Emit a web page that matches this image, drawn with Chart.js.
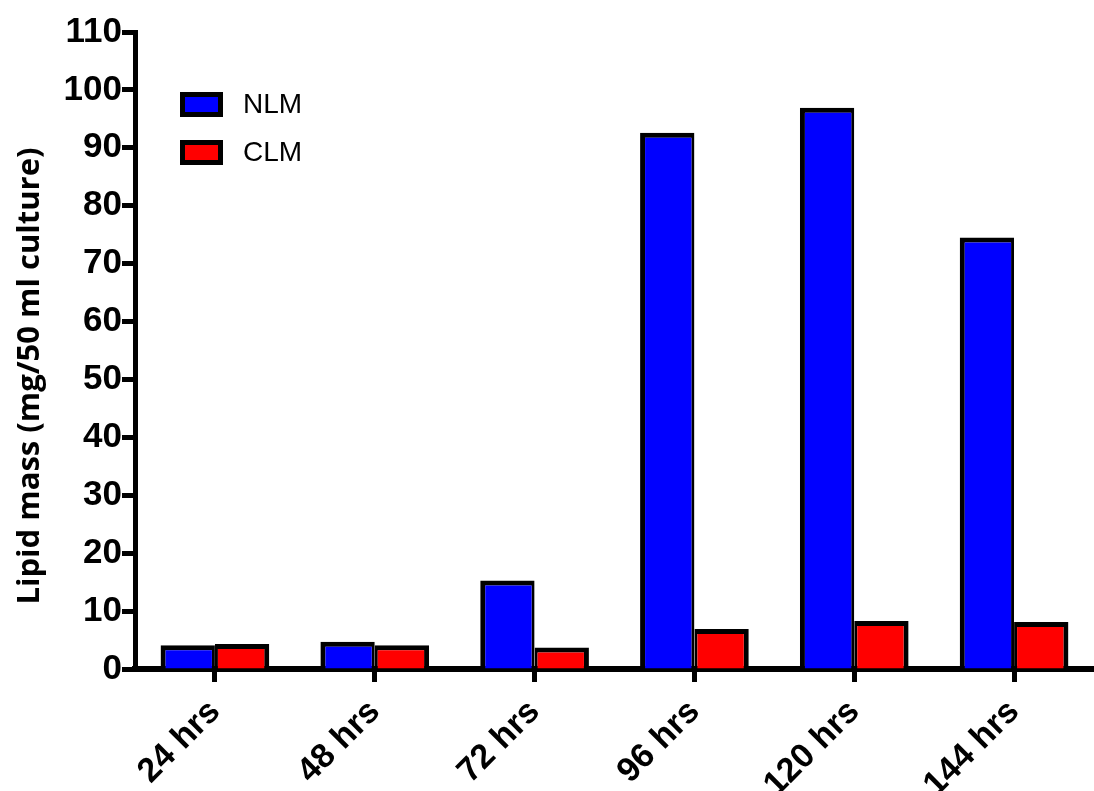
<!DOCTYPE html>
<html>
<head>
<meta charset="utf-8">
<script src="https://cdn.jsdelivr.net/npm/chart.js@4"></script>
<style>
  html, body { margin: 0; padding: 0; background: #fff; }
  #wrap { width: 1094px; height: 791px; }
</style>
</head>
<body>
<div id="wrap"><canvas id="lipidChart" width="1094" height="791"></canvas></div>
<script>
const timepoints = ["24 hrs", "48 hrs", "72 hrs", "96 hrs", "120 hrs", "144 hrs"];
const nlmValues = [4.1, 4.7, 15.3, 92.6, 96.9, 74.5];
const clmValues = [4.3, 4.1, 3.7, 6.9, 8.3, 8.1];
const yTicks = [0, 10, 20, 30, 40, 50, 60, 70, 80, 90, 100, 110];
const yTitle = 'Lipid mass (mg/50 ml culture)';

// legend boxes inside the plot, top-left, plus the rotated y title
const extras = {
  id: 'extras',
  afterDraw(chart) {
    const c = chart.ctx;
    chart.data.datasets.forEach((ds, i) => {
      const y = 92 + i * 48;
      c.save();
      c.fillStyle = ds.backgroundColor;
      c.fillRect(180, y, 43, 25);
      c.lineWidth = 5;
      c.strokeStyle = '#000';
      c.strokeRect(182.5, y + 2.5, 38, 20);
      c.fillStyle = '#000';
      c.font = '28px "Liberation Sans", Arial, sans-serif';
      c.textBaseline = 'middle';
      c.fillText(ds.label, 243, y + 13);
      c.restore();
    });
    c.save();
    c.translate(39, 376);
    c.rotate(-Math.PI / 2);
    c.fillStyle = '#000';
    c.font = 'bold 31px "Open Sans", sans-serif';
    c.textAlign = 'center';
    c.textBaseline = 'alphabetic';
    c.fillText(yTitle, 0, 0);
    c.restore();
  }
};

new Chart(document.getElementById('lipidChart'), {
  type: 'bar',
  data: {
    labels: timepoints,
    datasets: [
      { label: 'NLM', data: nlmValues, backgroundColor: '#0000ff', borderColor: '#000',
        borderWidth: { top: 5, left: 5, right: 3, bottom: 0 }, borderSkipped: false },
      { label: 'CLM', data: clmValues, backgroundColor: '#ff0000', borderColor: '#000',
        borderWidth: { top: 5, left: 3, right: 5, bottom: 0 }, borderSkipped: false }
    ]
  },
  options: {
    responsive: false,
    animation: false,
    layout: { padding: { top: 32, right: 0, left: 0, bottom: 0 } },
    datasets: { bar: { categoryPercentage: 0.68, barPercentage: 1, inflateAmount: 0 } },
    plugins: { legend: { display: false }, tooltip: { enabled: false } },
    scales: {
      x: {
        afterFit(s) { s.height = 122; },
        grid: { drawOnChartArea: false, drawTicks: true, tickLength: 13, tickWidth: 5, tickColor: '#000', offset: false },
        border: { display: true, color: '#000', width: 6 },
        ticks: {
          color: '#000', maxRotation: 45, minRotation: 45, padding: 10,
          font: { family: '"Liberation Sans", Arial, sans-serif', size: 34, weight: 'bold' }
        }
      },
      y: {
        min: 0, max: 110,
        afterFit(s) { s.width = 135; },
        afterBuildTicks(s) { s.ticks = yTicks.map(v => ({ value: v })); },
        grid: { drawOnChartArea: false, drawTicks: true, tickLength: 13, tickWidth: 5, tickColor: '#000' },
        border: { display: true, color: '#000', width: 5 },
        ticks: {
          color: '#000', padding: 0,
          font: { family: '"Liberation Sans", Arial, sans-serif', size: 35, weight: 'bold' }
        }
      }
    }
  },
  plugins: [extras]
});
</script>
</body>
</html>
